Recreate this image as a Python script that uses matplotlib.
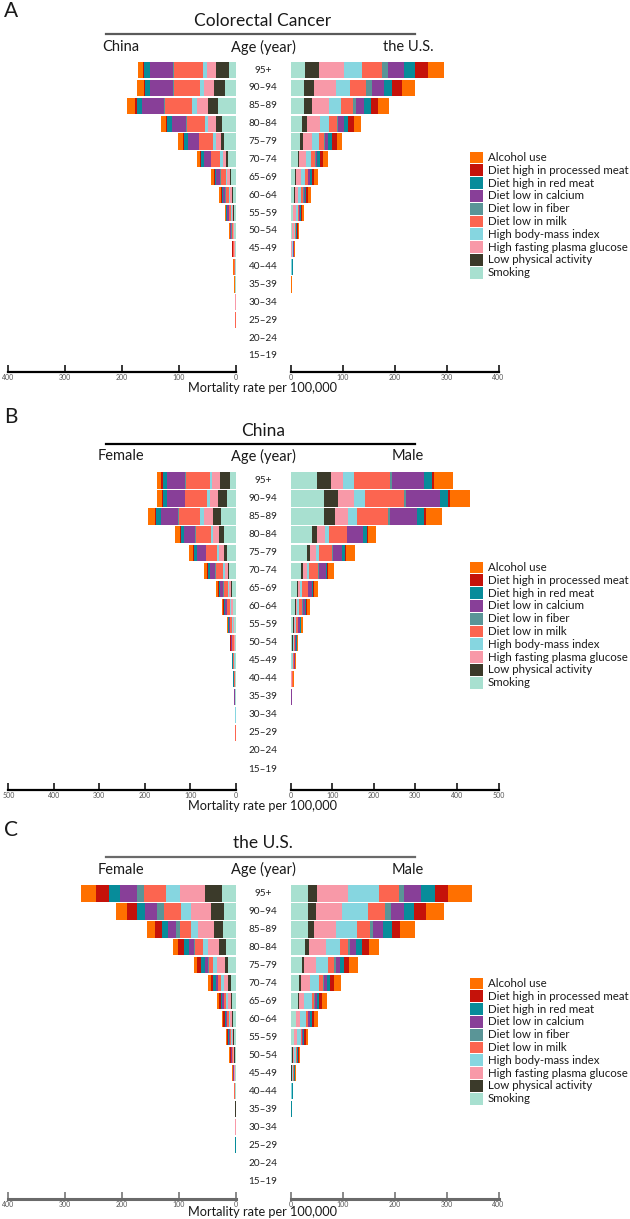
"""Population pyramids of colorectal cancer mortality attributable to risk factors."""
import matplotlib

matplotlib.use("Agg")

import matplotlib.pyplot as plt
from matplotlib.lines import Line2D
from matplotlib.patches import Rectangle
from matplotlib.transforms import blended_transform_factory
import numpy as np

plt.rcParams["font.family"] = ["Lato", "DejaVu Sans"]

AGES = ["95+", "90–94", "85–89", "80–84", "75–79", "70–74", "65–69", "60–64",
        "55–59", "50–54", "45–49", "40–44", "35–39", "30–34", "25–29", "20–24", "15–19"]

# stacking order, from the centre outwards
FACTORS = ["Smoking", "Low physical activity", "High fasting plasma glucose",
           "High body-mass index", "Diet low in milk", "Diet low in fiber",
           "Diet low in calcium", "Diet high in red meat",
           "Diet high in processed meat", "Alcohol use"]
COLORS = ["#a8e0d0", "#3b3a2a", "#f899a8", "#86d6e0", "#fc6550", "#5a9597",
          "#883f98", "#078c9a", "#c5120a", "#ff7000"]

# rows follow AGES (95+ first), columns follow FACTORS
A_CHINA = [
    [11.7, 22.3, 16.4, 7.0, 50.5, 2.3, 40.0, 10.6, 2.3, 9.4],
    [18.8, 19.4, 17.0, 8.2, 45.8, 1.2, 40.0, 8.8, 2.3, 12.3],
    [31.7, 17.6, 18.8, 8.8, 47.0, 2.3, 38.2, 9.4, 3.5, 14.1],
    [23.5, 11.2, 13.5, 6.5, 31.1, 1.8, 25.2, 7.6, 2.3, 9.4],
    [20.0, 5.9, 9.4, 5.3, 23.5, 1.2, 18.8, 6.5, 1.8, 8.8],
    [12.9, 3.5, 5.9, 4.7, 15.8, 1.2, 12.3, 4.1, 1.8, 6.5],
    [8.0, 1.5, 5.0, 3.0, 9.0, 0.8, 6.5, 2.6, 1.2, 5.8],
    [5.5, 1.0, 3.3, 2.0, 6.0, 0.6, 4.4, 1.8, 0.8, 3.4],
    [3.7, 0.7, 2.2, 1.35, 4.0, 0.4, 3.0, 1.2, 0.55, 2.3],
    [2.2, 0.4, 1.3, 0.8, 2.45, 0.25, 1.8, 0.7, 0.3, 1.3],
    [1.2, 0.25, 0.75, 0.45, 1.4, 0.15, 1.0, 0.4, 0.2, 0.7],
    [0.75, 0.15, 0.45, 0.3, 0.9, 0.1, 0.65, 0.25, 0.12, 0.43],
    [0.4, 0.08, 0.25, 0.17, 0.5, 0.05, 0.37, 0.14, 0.07, 0.27],
    [0.2, 0.04, 0.13, 0.09, 0.27, 0.03, 0.2, 0.07, 0.04, 0.13],
    [0.1, 0.02, 0.07, 0.05, 0.13, 0.01, 0.1, 0.04, 0.02, 0.06],
    [0.04, 0.01, 0.03, 0.02, 0.05, 0.0, 0.04, 0.01, 0.0, 0.02],
    [0.02, 0.0, 0.02, 0.01, 0.03, 0.0, 0.02, 0.01, 0.0, 0.01],
]
A_US = [
    [27.7, 26.4, 48.9, 34.1, 38.6, 11.6, 30.2, 21.9, 24.4, 31.5],
    [25.7, 19.9, 41.2, 28.3, 30.2, 11.6, 23.1, 16.1, 18.6, 25.1],
    [26.4, 14.8, 33.4, 23.1, 21.9, 5.8, 16.7, 12.9, 14.1, 19.9],
    [22.5, 9.6, 24.4, 16.7, 15.4, 1.9, 11.6, 9.0, 10.9, 14.1],
    [17.4, 5.8, 17.4, 14.8, 9.6, 1.9, 5.8, 7.7, 8.4, 10.3],
    [13.5, 3.2, 12.2, 10.9, 6.4, 1.9, 3.2, 5.1, 6.4, 8.4],
    [9.0, 2.0, 9.0, 8.0, 5.0, 1.0, 3.0, 4.0, 5.0, 6.0],
    [7.0, 1.5, 6.5, 6.0, 3.5, 0.8, 2.2, 3.0, 3.6, 4.5],
    [4.5, 1.0, 4.2, 4.0, 2.3, 0.5, 1.5, 2.0, 2.7, 3.0],
    [2.8, 0.6, 2.7, 2.6, 1.5, 0.3, 1.0, 1.3, 1.9, 2.0],
    [1.4, 0.3, 1.4, 1.3, 0.8, 0.15, 0.5, 0.65, 0.9, 1.0],
    [0.8, 0.2, 0.8, 0.8, 0.5, 0.1, 0.3, 0.4, 0.6, 0.6],
    [0.3, 0.08, 0.3, 0.3, 0.2, 0.04, 0.12, 0.16, 0.24, 0.26],
    [0.15, 0.04, 0.15, 0.15, 0.1, 0.02, 0.06, 0.08, 0.12, 0.13],
    [0.07, 0.02, 0.07, 0.07, 0.05, 0.01, 0.03, 0.04, 0.06, 0.08],
    [0.03, 0.01, 0.03, 0.03, 0.02, 0.0, 0.02, 0.02, 0.03, 0.1],
    [0.02, 0.0, 0.02, 0.02, 0.01, 0.0, 0.01, 0.01, 0.02, 0.2],
]
B_FEMALE = [
    [13.2, 21.9, 16.8, 5.1, 52.6, 1.5, 39.5, 10.2, 2.9, 8.8],
    [19.0, 20.5, 17.5, 6.6, 47.5, 1.5, 38.0, 9.5, 2.2, 11.7],
    [32.2, 18.3, 19.7, 7.3, 47.5, 1.5, 38.0, 11.0, 2.2, 14.6],
    [24.9, 11.0, 13.9, 5.1, 32.2, 1.5, 25.6, 6.6, 2.2, 10.2],
    [19.7, 6.6, 9.5, 5.1, 23.4, 1.5, 18.3, 6.6, 2.2, 8.8],
    [13.9, 3.7, 5.1, 4.4, 16.8, 1.5, 11.7, 4.4, 2.2, 6.6],
    [8.0, 2.0, 4.0, 3.0, 9.5, 1.0, 7.0, 3.0, 1.5, 4.9],
    [5.0, 1.3, 3.0, 2.2, 7.0, 0.7, 5.0, 2.2, 1.0, 3.3],
    [3.0, 0.8, 2.0, 1.4, 4.5, 0.5, 3.3, 1.4, 0.7, 2.1],
    [2.0, 0.5, 1.3, 1.0, 3.0, 0.3, 2.2, 1.0, 0.5, 1.4],
    [1.3, 0.35, 0.9, 0.6, 2.0, 0.2, 1.5, 0.65, 0.35, 0.95],
    [0.85, 0.23, 0.6, 0.4, 1.3, 0.13, 1.0, 0.43, 0.23, 0.63],
    [0.55, 0.15, 0.38, 0.25, 0.85, 0.08, 0.63, 0.27, 0.15, 0.39],
    [0.22, 0.06, 0.15, 0.1, 0.34, 0.03, 0.26, 0.11, 0.06, 0.17],
    [0.12, 0.03, 0.08, 0.05, 0.18, 0.02, 0.14, 0.06, 0.03, 0.09],
    [0.05, 0.01, 0.03, 0.02, 0.07, 0.01, 0.05, 0.02, 0.01, 0.03],
    [0.03, 0.01, 0.02, 0.01, 0.04, 0.0, 0.03, 0.01, 0.01, 0.02],
]
B_MALE = [
    [64.9, 33.6, 28.8, 24.8, 86.5, 6.4, 75.3, 20.8, 4.8, 44.9],
    [81.7, 33.6, 38.4, 25.6, 92.9, 5.6, 80.9, 20.8, 4.8, 48.1],
    [81.7, 25.6, 32.0, 21.6, 74.5, 3.2, 66.5, 16.0, 4.0, 38.4],
    [50.5, 13.6, 18.4, 11.2, 41.7, 1.6, 38.4, 8.0, 2.4, 20.8],
    [39.3, 6.4, 14.4, 9.6, 30.4, 1.0, 23.2, 6.4, 2.4, 21.6],
    [26.4, 4.8, 8.0, 6.4, 21.6, 1.0, 16.0, 4.0, 2.4, 14.4],
    [16.0, 3.0, 5.0, 4.0, 13.0, 0.8, 10.0, 2.5, 1.5, 11.5],
    [11.0, 2.0, 3.5, 3.0, 9.0, 0.5, 7.0, 1.8, 1.0, 7.7],
    [7.0, 1.3, 2.3, 2.0, 6.0, 0.3, 4.5, 1.2, 0.7, 5.1],
    [4.2, 0.8, 1.4, 1.2, 3.6, 0.2, 2.8, 0.7, 0.4, 3.1],
    [3.0, 0.55, 1.0, 0.85, 2.5, 0.15, 1.9, 0.5, 0.3, 2.05],
    [1.9, 0.35, 0.6, 0.5, 1.6, 0.1, 1.2, 0.3, 0.2, 1.25],
    [0.75, 0.14, 0.24, 0.2, 0.65, 0.04, 0.5, 0.12, 0.08, 0.48],
    [0.35, 0.07, 0.11, 0.1, 0.3, 0.02, 0.23, 0.06, 0.04, 0.22],
    [0.19, 0.04, 0.06, 0.05, 0.16, 0.01, 0.12, 0.03, 0.02, 0.12],
    [0.09, 0.02, 0.03, 0.03, 0.08, 0.0, 0.06, 0.02, 0.01, 0.06],
    [0.07, 0.01, 0.02, 0.02, 0.06, 0.0, 0.04, 0.01, 0.01, 0.06],
]
C_FEMALE = [
    [24.6, 29.8, 43.9, 24.6, 38.0, 12.9, 29.3, 19.3, 23.4, 26.9],
    [21.1, 22.8, 35.1, 17.6, 29.8, 12.3, 20.5, 15.2, 17.0, 19.3],
    [22.2, 15.8, 27.5, 12.9, 20.5, 5.9, 14.0, 11.1, 12.3, 14.6],
    [17.6, 11.1, 20.5, 8.8, 12.9, 2.3, 9.4, 8.8, 9.4, 9.9],
    [13.5, 5.9, 13.5, 7.0, 7.6, 1.8, 4.7, 6.4, 7.0, 6.4],
    [8.8, 4.1, 8.2, 4.7, 4.7, 1.2, 3.5, 4.1, 4.7, 4.7],
    [6.0, 2.5, 5.5, 3.2, 3.3, 0.8, 2.3, 2.9, 3.5, 3.3],
    [4.5, 1.6, 4.0, 2.4, 2.5, 0.6, 1.7, 2.1, 2.6, 2.6],
    [3.0, 1.1, 2.7, 1.6, 1.7, 0.4, 1.1, 1.4, 1.7, 1.7],
    [2.0, 0.7, 1.8, 1.1, 1.1, 0.25, 0.75, 0.95, 1.15, 1.2],
    [1.1, 0.4, 1.0, 0.6, 0.6, 0.14, 0.4, 0.5, 0.63, 0.63],
    [0.64, 0.23, 0.58, 0.35, 0.35, 0.08, 0.23, 0.29, 0.37, 0.38],
    [0.33, 0.12, 0.3, 0.18, 0.18, 0.04, 0.12, 0.15, 0.19, 0.19],
    [0.18, 0.07, 0.17, 0.1, 0.1, 0.02, 0.07, 0.08, 0.11, 0.1],
    [0.09, 0.03, 0.08, 0.05, 0.05, 0.01, 0.03, 0.04, 0.05, 0.05],
    [0.06, 0.02, 0.05, 0.03, 0.03, 0.01, 0.02, 0.03, 0.03, 0.03],
    [0.04, 0.01, 0.03, 0.02, 0.02, 0.0, 0.01, 0.02, 0.02, 0.02],
]
C_MALE = [
    [34.6, 17.3, 59.0, 59.0, 37.8, 11.5, 32.7, 25.6, 26.3, 45.5],
    [34.0, 14.1, 51.3, 49.4, 33.3, 10.3, 26.3, 19.2, 21.8, 35.9],
    [34.0, 10.3, 43.6, 39.1, 25.0, 5.8, 19.2, 17.3, 16.0, 28.8],
    [28.2, 7.1, 32.1, 27.6, 15.4, 3.2, 12.2, 11.5, 12.8, 19.2],
    [22.4, 4.5, 22.4, 23.7, 11.5, 2.6, 7.7, 9.0, 9.6, 16.0],
    [17.3, 2.6, 16.7, 18.6, 7.7, 1.9, 4.5, 6.4, 8.3, 12.2],
    [13.5, 1.9, 10.3, 14.7, 5.1, 1.3, 3.2, 5.1, 5.8, 9.6],
    [10.0, 1.4, 7.5, 10.8, 3.8, 0.9, 2.4, 3.8, 4.3, 7.1],
    [6.5, 0.9, 4.9, 7.1, 2.5, 0.6, 1.6, 2.5, 2.8, 4.6],
    [3.6, 0.5, 2.7, 4.0, 1.4, 0.35, 0.9, 1.4, 1.6, 2.55],
    [1.9, 0.26, 1.4, 2.1, 0.74, 0.18, 0.47, 0.74, 0.84, 1.37],
    [0.95, 0.13, 0.7, 1.05, 0.37, 0.09, 0.24, 0.37, 0.42, 0.68],
    [0.48, 0.07, 0.35, 0.52, 0.18, 0.04, 0.12, 0.18, 0.21, 0.35],
    [0.23, 0.03, 0.17, 0.25, 0.09, 0.02, 0.06, 0.09, 0.1, 0.16],
    [0.11, 0.02, 0.08, 0.13, 0.04, 0.01, 0.03, 0.04, 0.05, 0.09],
    [0.08, 0.01, 0.06, 0.08, 0.03, 0.01, 0.02, 0.03, 0.03, 0.05],
    [0.04, 0.0, 0.03, 0.04, 0.01, 0.0, 0.01, 0.02, 0.02, 0.03],
]

# layout, in pixels of the 630 x 1219 output
W, H = 630, 1219
PANELS = [
    dict(letter="A", title="Colorectal Cancer", left="China", right="the U.S.",
         left_data=A_CHINA, right_data=A_US, xmax=400, letter_y=11, title_y=21,
         rule_y=33.5, head_y=47, top_row=70, bottom_row=356, axis_y=371.5,
         label_y=388, legend_y=157.5, rule_color="#5a5a5a", axis_color="black"),
    dict(letter="B", title="China", left="Female", right="Male",
         left_data=B_FEMALE, right_data=B_MALE, xmax=500, letter_y=417, title_y=431,
         rule_y=443.5, head_y=456, top_row=480.5, bottom_row=769, axis_y=790,
         label_y=806.5, legend_y=567.5, rule_color="black", axis_color="black"),
    dict(letter="C", title="the U.S.", left="Female", right="Male",
         left_data=C_FEMALE, right_data=C_MALE, xmax=400, letter_y=830, title_y=843,
         rule_y=857, head_y=869.5, top_row=893.5, bottom_row=1181, axis_y=1199,
         label_y=1212, legend_y=983.5, rule_color="#6a6a6a", axis_color="#6a6a6a"),
]
LEFT_X = (8.4, 235.7)
RIGHT_X = (290.5, 498.5)
CENTER_X = 263


def fx(px):
    return px / W


def fy(py):
    return 1 - py / H


def draw_side(ax, data, xmax, axis_color):
    values = np.array(data)
    ypos = np.arange(len(AGES))[::-1]
    left = np.zeros(len(AGES))
    for j, color in enumerate(COLORS):
        ax.barh(ypos, values[:, j], left=left, height=0.9, color=color, linewidth=0)
        left += values[:, j]
    ax.set_xlim(0, xmax)
    ax.set_xticks(np.arange(0, xmax + 1, 100))
    for side in ("top", "left", "right"):
        ax.spines[side].set_visible(False)
    ax.spines["bottom"].set_color(axis_color)
    ax.spines["bottom"].set_linewidth(1.6 if axis_color == "black" else 2.2)
    ax.set_yticks([])
    ax.tick_params(axis="x", direction="in", length=5, width=1.1, color=axis_color,
                   labelsize=5, labelcolor="#555555", pad=1.5)
    ax.patch.set_alpha(0)


fig = plt.figure(figsize=(W / 100, H / 100), dpi=100)

for p in PANELS:
    spacing = (p["bottom_row"] - p["top_row"]) / (len(AGES) - 1)
    top_px = p["top_row"] - 0.62 * spacing
    ylo = -(p["axis_y"] - p["bottom_row"]) / spacing
    yhi = len(AGES) - 1 + 0.62
    height = (p["axis_y"] - top_px) / H

    ax_l = fig.add_axes([fx(LEFT_X[0]), fy(p["axis_y"]), fx(LEFT_X[1] - LEFT_X[0]), height])
    ax_r = fig.add_axes([fx(RIGHT_X[0]), fy(p["axis_y"]), fx(RIGHT_X[1] - RIGHT_X[0]), height])
    draw_side(ax_l, p["left_data"], p["xmax"], p["axis_color"])
    draw_side(ax_r, p["right_data"], p["xmax"], p["axis_color"])
    ax_l.invert_xaxis()
    for ax in (ax_l, ax_r):
        ax.set_ylim(ylo, yhi)

    trans = blended_transform_factory(fig.transFigure, ax_r.transData)
    for i, age in enumerate(AGES):
        ax_r.text(fx(CENTER_X), len(AGES) - 1 - i, age, transform=trans,
                  ha="center", va="center", fontsize=7.2, color="#222222")

    fig.text(fx(4), fy(p["letter_y"]), p["letter"], fontsize=15, va="center",
             ha="left", color="#1a1a1a")
    fig.text(fx(CENTER_X), fy(p["title_y"]), p["title"], fontsize=12.5,
             ha="center", va="center", color="#1a1a1a")
    fig.add_artist(Line2D([fx(106), fx(415)], [fy(p["rule_y"])] * 2,
                          color=p["rule_color"], linewidth=1.6))
    fig.text(fx(121), fy(p["head_y"]), p["left"], fontsize=10.5, ha="center",
             va="center", color="#1a1a1a")
    fig.text(fx(CENTER_X), fy(p["head_y"]), "Age (year)", fontsize=10.5,
             ha="center", va="center", color="#1a1a1a")
    fig.text(fx(408), fy(p["head_y"]), p["right"], fontsize=10.5, ha="center",
             va="center", color="#1a1a1a")
    fig.text(fx(CENTER_X), fy(p["label_y"]), "Mortality rate per 100,000",
             fontsize=9.2, ha="center", va="center", color="#1a1a1a")

    # legend, listed from the outermost factor in
    step = 12.8
    for k, (name, color) in enumerate(zip(FACTORS[::-1], COLORS[::-1])):
        yc = p["legend_y"] + k * step
        fig.add_artist(Rectangle((fx(470), fy(yc + 5.9)), fx(13), 11.8 / H,
                                 facecolor=color, edgecolor="none"))
        fig.text(fx(488), fy(yc), name, fontsize=8.3, ha="left", va="center",
                 color="#1a1a1a")

fig.savefig("out.png", dpi=100, facecolor="white")
